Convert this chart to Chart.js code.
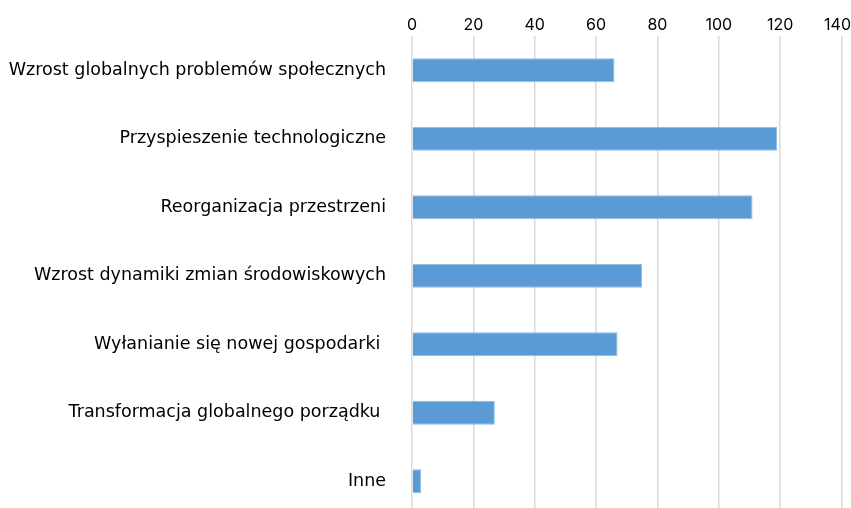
<!DOCTYPE html>
<html>
<head>
<meta charset="utf-8">
<script src="https://cdn.jsdelivr.net/npm/chart.js@4/dist/chart.umd.min.js"></script>
<style>
  html, body { margin: 0; padding: 0; background: #fff; overflow: hidden; }
  #wrap { width: 860px; height: 544px; }
</style>
</head>
<body>
<div id="wrap"><canvas id="chart" width="860" height="544"></canvas></div>
<script>
const categories = [
    "Wzrost globalnych problemów społecznych",
    "Przyspieszenie technologiczne",
    "Reorganizacja przestrzeni",
    "Wzrost dynamiki zmian środowiskowych",
    "Wyłanianie się nowej gospodarki ",
    "Transformacja globalnego porządku ",
    "Inne"
];
const counts = [66, 119, 111, 75, 67, 27, 3];
const xTicks = [0, 20, 40, 60, 80, 100, 120, 140];

const labelFont = "'DejaVu Sans', sans-serif";
const tickFont = "Inter, 'DejaVu Sans', sans-serif";

const ctx = document.getElementById("chart").getContext("2d");
const chart = new Chart(ctx, {
    type: "bar",
    data: {
        labels: categories,
        datasets: [{
            data: counts,
            backgroundColor: "#5b9bd5",
            borderColor: "#8fbbe3",
            borderWidth: 1,
            barPercentage: 0.7,
            categoryPercentage: 0.5
        }]
    },
    options: {
        indexAxis: "y",
        responsive: false,
        animation: false,
        layout: { padding: 0 },
        plugins: {
            legend: { display: false },
            tooltip: { enabled: false }
        },
        scales: {
            x: {
                position: "top",
                min: 0,
                max: 140,
                afterBuildTicks: axis => { axis.ticks = xTicks.map(v => ({ value: v })); },
                afterFit: axis => { axis.height = 36; },
                grid: { color: "#d9d9d9", lineWidth: 1.5, drawTicks: false },
                border: { display: false },
                ticks: {
                    padding: 1,
                    color: "#000",
                    font: { family: tickFont, size: 16 },
                    // keep the last label inside the picture, like the original
                    callback: v => v === 140 ? v + "\u2002" : v
                }
            },
            y: {
                afterFit: axis => { axis.width = 412; },
                grid: { display: false },
                border: { display: false },
                ticks: {
                    padding: 18,
                    color: "#000",
                    font: { family: labelFont, size: 17.5 }
                }
            }
        }
    }
});
</script>
</body>
</html>
